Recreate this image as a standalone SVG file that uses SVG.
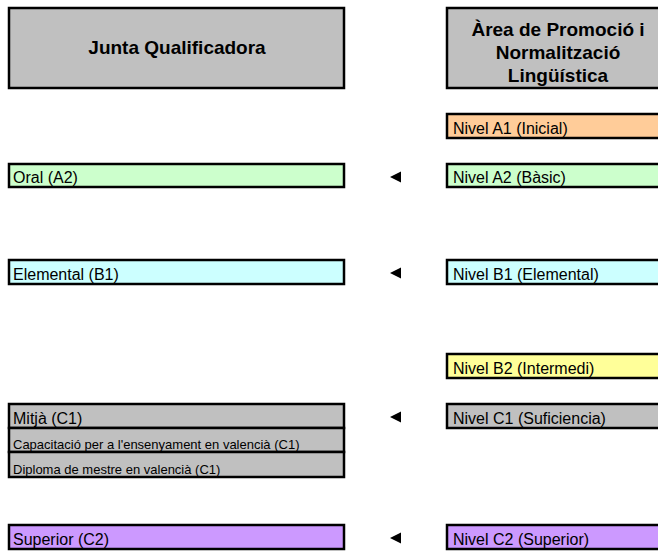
<svg xmlns="http://www.w3.org/2000/svg" width="658" height="554" viewBox="0 0 658 554">
<style>
.box{stroke:#000;stroke-width:2.5}
.hdr{fill:#C0C0C0}
.t{font-family:"Liberation Sans",Arial,sans-serif;font-size:16px;fill:#000}
.ts{font-family:"Liberation Sans",Arial,sans-serif;font-size:13px;fill:#000}
.th{font-family:"Liberation Sans",Arial,sans-serif;font-size:19px;font-weight:bold;fill:#000;text-anchor:middle}
.a1{fill:#FFCC99}.a2{fill:#CCFFCC}.b1{fill:#CCFFFF}.b2{fill:#FFFF99}.c1{fill:#C0C0C0}.c2{fill:#CC99FF}
</style>
<rect width="658" height="554" fill="#fff"/>
<g id="junta-header"><rect class="box hdr" x="9" y="8" width="335" height="80"/><text class="th" x="177" y="54">Junta Qualificadora</text></g>
<g id="apnl-header"><rect class="box hdr" x="447" y="8" width="230" height="80"/><text class="th" x="558" y="36">Àrea de Promoció i</text><text class="th" x="558" y="59">Normalització</text><text class="th" x="558" y="82">Lingüística</text></g>
<g id="nivel-a1"><rect class="box a1" x="447" y="114" width="230" height="24"/><text class="t" x="453" y="134">Nivel A1 (Inicial)</text></g>
<g id="oral-a2"><rect class="box a2" x="9" y="164" width="335" height="23"/><text class="t" x="13" y="183">Oral (A2)</text></g>
<g id="nivel-a2"><rect class="box a2" x="447" y="164" width="230" height="23"/><text class="t" x="453" y="183">Nivel A2 (Bàsic)</text></g>
<g id="elemental-b1"><rect class="box b1" x="9" y="260" width="335" height="24"/><text class="t" x="13" y="280">Elemental (B1)</text></g>
<g id="nivel-b1"><rect class="box b1" x="447" y="260" width="230" height="24"/><text class="t" x="453" y="280">Nivel B1 (Elemental)</text></g>
<g id="nivel-b2"><rect class="box b2" x="447" y="354" width="230" height="24"/><text class="t" x="453" y="374">Nivel B2 (Intermedi)</text></g>
<g id="mitja-c1"><rect class="box c1" x="9" y="404" width="335" height="24"/><text class="t" x="13" y="424">Mitjà (C1)</text></g>
<g id="capacitacio-c1"><rect class="box c1" x="9" y="428" width="335" height="24"/><text class="ts" x="13" y="449">Capacitació per a l'ensenyament en valencià (C1)</text></g>
<g id="diploma-c1"><rect class="box c1" x="9" y="452" width="335" height="25"/><text class="ts" x="13" y="474">Diploma de mestre en valencià (C1)</text></g>
<g id="nivel-c1"><rect class="box c1" x="447" y="404" width="230" height="24"/><text class="t" x="453" y="424">Nivel C1 (Suficiencia)</text></g>
<g id="superior-c2"><rect class="box c2" x="9" y="525" width="335" height="24"/><text class="t" x="13" y="545">Superior (C2)</text></g>
<g id="nivel-c2"><rect class="box c2" x="447" y="525" width="230" height="24"/><text class="t" x="453" y="545">Nivel C2 (Superior)</text></g>
<g id="connectors" fill="#000">
<polygon points="390,177 401,171.5 401,182.5"/>
<polygon points="390,273 401,267.5 401,278.5"/>
<polygon points="390,417 401,411.5 401,422.5"/>
<polygon points="390,538 401,532.5 401,543.5"/>
</g>
</svg>
